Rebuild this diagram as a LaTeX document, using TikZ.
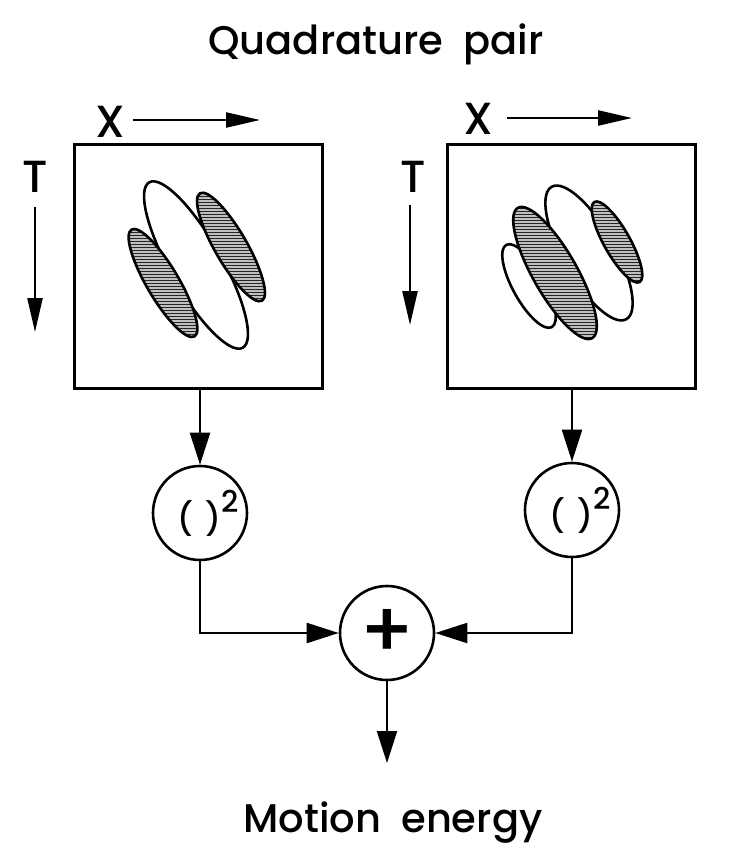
\documentclass[tikz,border=0pt]{standalone}
\usepackage{fontspec}
\setmainfont{Poppins}[UprightFont=* Medium]
\usetikzlibrary{arrows.meta, positioning, patterns}

\begin{document}
\begin{tikzpicture}[x=1pt, y=1pt,
        every node/.style={align=center},
        field/.style={rectangle, draw, line width=3pt, minimum width=248pt,
                      minimum height=244pt, inner sep=0pt},
        squarer/.style={circle, draw, line width=2.6pt, minimum size=94pt,
                        inner sep=0pt, font=\fontsize{32}{36}\selectfont},
        adder/.style={circle, draw, line width=2.6pt, minimum size=94pt,
                      inner sep=0pt, font=\fontsize{78}{78}\selectfont},
        arrow/.style={-{Triangle[length=32pt, width=20pt]}, line width=2.2pt},
        axis/.style={-{Triangle[length=34pt, width=15pt]}, line width=2.4pt},
        lobe/.style={draw, line width=2.6pt, fill=white},
        hatched/.style={draw, line width=2.6pt, preaction={fill=gray!50},
                        pattern=horizontal lines, pattern color=black!85},
        title/.style={font=\fontsize{40}{48}\selectfont, inner sep=0pt},
        axlbl/.style={font=\fontsize{45}{50}\selectfont, inner sep=0pt}
    ]
        \useasboundingbox (0,0) rectangle (744,-848);

        % Titles
        \node[title, anchor=base] (top) at (376,-55) {Quadrature\hspace{0.5em}pair};
        \node[title, anchor=base] (bottom) at (393,-832) {Motion\hspace{0.5em}energy};

        % Space-time receptive fields
        \node[field] (fieldL) at (198,-266) {};
        \node[field] (fieldR) at (571,-266) {};

        % Even filter
        \begin{scope}[shift={(fieldL.center)}]
            \draw[lobe] (-2,1) ellipse [x radius=95, y radius=26, rotate=-60.5];
            \draw[hatched] (-35,-17) ellipse [x radius=62, y radius=16, rotate=-59.5];
            \draw[hatched] (33,19) ellipse [x radius=62, y radius=16, rotate=-60];
        \end{scope}

        % Odd filter
        \begin{scope}[shift={(fieldR.center)}]
            \draw[lobe] (18,13) ellipse [x radius=76, y radius=26, rotate=-60.6];
            \draw[lobe] (-42,-20) ellipse [x radius=47, y radius=16, rotate=-61];
            \draw[hatched] (-16,-7) ellipse [x radius=75, y radius=22, rotate=-60.3];
            \draw[hatched] (46,24) ellipse [x radius=46, y radius=13, rotate=-60.6];
        \end{scope}

        % Axis labels
        \node[axlbl, anchor=base] (xL) at (110,-137) {X};
        \node[axlbl, anchor=base] (tL) at (35,-192) {T};
        \node[axlbl, anchor=base] (xR) at (478,-135) {X};
        \node[axlbl, anchor=base] (tR) at (413,-192) {T};
        \coordinate (xLa) at (133,-120);
        \coordinate (xLb) at (260,-120);
        \coordinate (tLa) at (35,-207);
        \coordinate (tLb) at (35,-332);
        \coordinate (xRa) at (507,-118);
        \coordinate (xRb) at (632,-118);
        \coordinate (tRa) at (410,-205);
        \coordinate (tRb) at (410,-325);
        \draw[axis] (xLa) -- (xLb);
        \draw[axis] (tLa) -- (tLb);
        \draw[axis] (xRa) -- (xRb);
        \draw[axis] (tRa) -- (tRb);

        % Squaring and summation
        \node[squarer] (sqL) at (200,-513) {\hspace{16pt}(\hspace{13pt})\raisebox{18pt}{\fontsize{30}{30}\selectfont 2}};
        \node[squarer] (sqR) at (572,-510) {\hspace{16pt}(\hspace{13pt})\raisebox{18pt}{\fontsize{30}{30}\selectfont 2}};
        \node[adder] (sum) at (387,-633) {+};
        \coordinate (out) at (387,-763);

        % Connectors
        \draw[arrow] (sqL.north |- fieldL.south) -- (sqL.north);
        \draw[arrow] (sqR.north |- fieldR.south) -- (sqR.north);
        \draw[arrow] (sqL.south) |- (sum.west);
        \draw[arrow] (sqR.south) |- (sum.east);
        \draw[arrow] (sum.south) -- (out);
    \end{tikzpicture}
\end{document}
